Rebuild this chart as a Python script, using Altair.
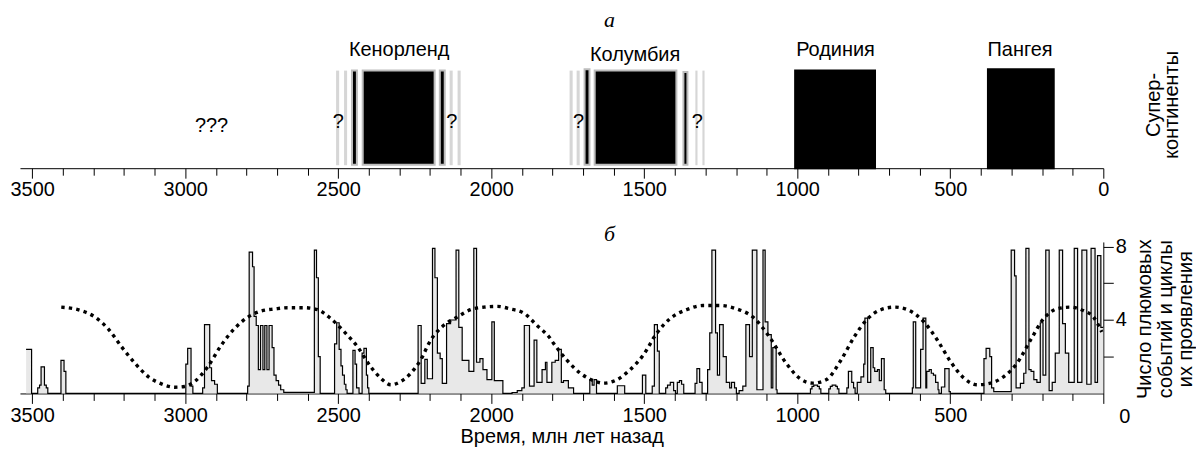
import altair as alt
import pandas as pd

# ---------------- top panel: supercontinents ----------------
block_name = ["Кенорленд", "Колумбия", "Родиния", "Пангея"]
block_old = [2420, 1662, 1007, 377]
block_young = [2185, 1395, 746, 162]
block_top = [7.2, 7.2, 7.2, 7.3]
block_bottom = [0.26, 0.26, 0.0, 0.0]
block_edge = ["#bdbdbd", "#bdbdbd", "black", "black"]

bar_old = [2455, 2168, 1695, 1372]
bar_young = [2439, 2152, 1679, 1359]
bar_top = [7.2, 7.2, 7.3, 7.1]
bar_bottom = [0.26, 0.26, 0.26, 0.26]

stripe_old = [2507, 2481, 2136, 2110, 1744, 1721, 1333, 1310]
stripe_young = [2497, 2471, 2126, 2100, 1734, 1711, 1326, 1303]
stripe_top = [7.2, 7.2, 7.2, 7.2, 7.2, 7.2, 7.2, 7.2]
stripe_bottom = [0.22, 0.22, 0.22, 0.22, 0.22, 0.22, 0.22, 0.22]

label_age = [2301, 1530, 875, 272]
label_y = [8.31, 7.94, 8.31, 8.31]

q_text = ["???", "?", "?", "?", "?"]
q_age = [2914, 2500, 2129, 1715, 1327]
q_y = [2.65, 2.94, 2.94, 2.94, 2.94]

# ---------------- bottom panel: plume events ----------------
plume_age = [3520, 3502, 3482, 3476, 3471, 3460, 3454, 3449, 3406, 3396, 3390,
             2998, 2992, 2981, 2975, 2943, 2937, 2920, 2914, 2904, 2895,
             2796, 2791, 2780, 2775, 2768, 2761, 2754, 2746, 2740, 2733, 2726,
             2716, 2710, 2703, 2695, 2688, 2678,
             2578, 2571, 2565, 2559,
             2512, 2505, 2497, 2491, 2486, 2480, 2475, 2471,
             2452, 2445, 2440, 2432, 2422, 2416, 2408, 2404, 2400,
             2239, 2229, 2217, 2209, 2192, 2184, 2176, 2167, 2160, 2146, 2133,
             2115, 2106, 2095, 2073, 2057, 2048, 2037, 2027, 2014, 1998, 1990, 1962,
             1932, 1915, 1900, 1892, 1875, 1860, 1851, 1834, 1823, 1818, 1802,
             1791, 1780, 1771, 1764, 1748, 1731,
             1678, 1670, 1664, 1656, 1588, 1564, 1506, 1495,
             1474, 1467, 1457, 1451, 1430, 1424, 1415, 1404, 1398,
             1392, 1385, 1378, 1371, 1334, 1328, 1319, 1311,
             1293, 1286, 1279, 1267, 1261, 1254, 1242, 1232, 1221, 1215, 1205, 1199,
             1190, 1178, 1168, 1156, 1147, 1132, 1112, 1105, 1096, 1085, 1080, 1069, 1066,
             957, 952, 946, 934, 928, 923, 897, 892, 886, 874, 869, 864,
             838, 833, 822, 816, 811,
             804, 792, 783, 779, 770, 760, 752, 747, 738, 732, 725, 716, 711,
             624, 621, 613, 597, 589, 580, 577, 569, 562, 555, 548, 540, 537,
             529, 518, 504, 500,
             390, 383, 371, 365, 358,
             301, 290, 285, 271, 260, 253, 243, 236, 227, 217, 206, 197, 188,
             177, 167, 157, 144, 133, 124, 113, 95, 84, 70, 54, 40, 27, 19, 8, 0]
plume_n = [2.4, 0, 0.3, 0.45, 1.45, 0.45, 0.3, 0, 1.8, 1.2, 0,
           1.6, 2.45, 0.4, 0, 0.3, 3.75, 1.4, 0.7, 0.5, 0,
           0.4, 7.7, 6.9, 4.2, 3.7, 1.3, 3.7, 1.3, 3.7, 1.3, 3.7,
           2.5, 1.0, 0.7, 0.45, 0.2, 0.06,
           7.8, 6.3, 2.0, 0,
           2.7, 3.85, 2.4, 1.5, 1.0, 0.5, 0.2, 0,
           2.35, 1.6, 0.3, 0, 2.2, 2.45, 1.0, 0.3, 0,
           3.7, 0.55, 1.85, 0.8, 7.9, 6.3, 2.2, 1.9, 0.55, 3.8, 4.0,
           7.8, 3.6, 1.8, 1.2, 7.9, 1.7, 1.9, 1.3, 0.75, 3.9, 0.7, 0,
           0.05, 0.15, 0.3, 3.7, 0.4, 2.9, 0.6, 1.3, 1.7, 0.6, 1.7,
           1.8, 2.4, 0.6, 0.7, 0.3, 0,
           0.75, 0.45, 0.75, 0, 0.42, 0, 1.0, 0,
           0.4, 3.75, 2.3, 0, 0.3, 0.45, 0.6, 0.15, 0,
           0.6, 0.7, 0.5, 0, 0.55, 1.35, 0.6, 0,
           1.3, 3.3, 7.8, 3.3, 1.0, 3.75, 2.0, 0.6, 0.3, 0.6, 0.3, 0,
           0.15, 0.4, 3.75, 2.0, 7.8, 0.2, 7.8, 3.9, 3.2, 0.3, 2.5, 0.2, 0,
           0.25, 0.38, 0.45, 0.38, 0.25, 0, 0.25, 0.38, 0.45, 0.38, 0.25, 0,
           0.3, 1.2, 0.6, 0.3, 0,
           0.6, 0.9, 1.6, 4.1, 0.6, 2.5, 1.4, 1.2, 1.3, 0.7, 1.9, 0.2, 0,
           0.3, 3.9, 0.3, 2.4, 4.1, 0.3, 1.2, 1.3, 1.1, 1.0, 0.6, 0.2, 0,
           0.35, 1.35, 0.1, 0,
           1.9, 2.45, 2.0, 0.3, 0.1,
           7.8, 6.4, 0.3, 0.55, 1.1, 7.9, 1.3, 1.2, 0.75, 0.6, 3.85, 1.0, 7.8,
           0.15, 0.6, 2.2, 7.8, 3.8, 2.2, 0.6, 7.9, 0.6, 7.8, 0.5, 7.9, 0.6, 7.5, 3.6, 3.6]

cycle_age = [3405, 3338, 3295, 3251, 3208, 3164, 3121, 3078, 3034, 3002, 2969,
             2926, 2882, 2839, 2795, 2752, 2708, 2665, 2611, 2567, 2524, 2480,
             2437, 2394, 2361, 2328, 2296, 2263, 2231, 2198, 2155, 2111, 2068,
             2024, 1981, 1937, 1894, 1851, 1807, 1796, 1753, 1709, 1666, 1633,
             1590, 1547, 1503, 1460, 1416, 1362, 1308, 1253, 1199, 1145, 1091,
             1036, 993, 950, 906, 857, 814, 770, 727, 683, 640, 586, 542, 499,
             455, 412, 369, 325, 282, 238, 195, 151, 108, 64, 32, 5]
cycle_n = [4.7, 4.5, 4.16, 3.5, 2.54, 1.64, 0.92, 0.52, 0.34, 0.38, 0.65,
           1.46, 2.63, 3.53, 4.16, 4.49, 4.6, 4.67, 4.67, 4.56, 4.07, 3.35,
           2.54, 1.46, 0.83, 0.47, 0.65, 1.1, 1.82, 2.9, 3.71, 4.16, 4.56,
           4.7, 4.74, 4.6, 4.38, 3.71, 2.99, 2.72, 1.82, 1.1, 0.7, 0.56,
           0.74, 1.28, 2.09, 3.26, 4.07, 4.56, 4.79, 4.79, 4.61, 4.16, 3.08,
           1.64, 0.83, 0.56, 0.74, 1.82, 3.08, 4.07, 4.56, 4.7, 4.56, 3.89, 2.9, 1.73,
           0.83, 0.47, 0.56, 0.92, 1.64, 2.9, 4.07, 4.61, 4.7, 4.5, 4.16, 3.35]

zero_label = ["0"]
zero_age = [-70]
zero_y = [-1.3]

# ---------------- tables ----------------
blocks = pd.DataFrame({"name": block_name, "old": block_old, "young": block_young,
                       "top": block_top, "bottom": block_bottom, "edge": block_edge})
bars = pd.DataFrame({"old": bar_old, "young": bar_young, "top": bar_top, "bottom": bar_bottom})
stripes = pd.DataFrame({"old": stripe_old, "young": stripe_young,
                        "top": stripe_top, "bottom": stripe_bottom})
labels = pd.DataFrame({"name": block_name, "old": label_age, "y": label_y})
qs = pd.DataFrame({"t": q_text, "old": q_age, "y": q_y})
plume = pd.DataFrame({"old": plume_age, "n": plume_n})
cycle = pd.DataFrame({"old": cycle_age, "n": cycle_n})
zero = pd.DataFrame({"t": zero_label, "old": zero_age, "n": zero_y})

FONT = "Liberation Sans"
W = 1087
xscale = alt.Scale(domain=[0, 3540], reverse=True, nice=False, zero=False)
tick_cond = {"condition": {"test": "datum.value % 500 === 0", "value": 10}, "value": 7}


def xaxis(show_zero, title=None, pad=0):
    expr = ("datum.value % 500 === 0 ? datum.label : ''" if show_zero
            else "(datum.value % 500 === 0 && datum.value > 0) ? datum.label : ''")
    kw = dict(values=list(range(0, 3501, 100)), format="d", labelExpr=expr,
              tickSize=tick_cond, labelPadding=pad, labelFlush=False, labelOverlap=False,
              grid=False)
    if title:
        kw["title"] = title
        kw["titlePadding"] = 1
    else:
        kw["title"] = None
    return alt.Axis(**kw)


# top panel
ytop = alt.Scale(domain=[0, 10], nice=False, zero=False)
ytop_axis = alt.Axis(orient="right", title=["Супер-", "континенты"], domain=False, ticks=False,
                     labels=False, grid=False, titleAngle=270, titleAlign="center",
                     titleBaseline="middle", titleX=50, titleY=72, titleLineHeight=18,
                     titleFontSize=20)
top_x = alt.X("old:Q", scale=xscale, axis=xaxis(True, pad=1))

stripe_layer = alt.Chart(stripes).mark_rect(color="#d6d6d6").encode(
    x=top_x, x2="young:Q",
    y=alt.Y("bottom:Q", scale=ytop, axis=ytop_axis), y2="top:Q")
block_layer = alt.Chart(blocks).mark_rect(fill="black", strokeWidth=2).encode(
    x=top_x, x2="young:Q",
    y=alt.Y("bottom:Q", scale=ytop, axis=ytop_axis), y2="top:Q",
    stroke=alt.Color("edge:N", scale=None))
bar_layer = alt.Chart(bars).mark_rect(fill="black", stroke="#bdbdbd", strokeWidth=2).encode(
    x=top_x, x2="young:Q",
    y=alt.Y("bottom:Q", scale=ytop, axis=ytop_axis), y2="top:Q")
label_layer = alt.Chart(labels).mark_text(font=FONT, fontSize=20, baseline="alphabetic",
                                          color="black").encode(
    x=top_x, y=alt.Y("y:Q", scale=ytop, axis=ytop_axis), text="name:N")
q_layer = alt.Chart(qs).mark_text(font=FONT, fontSize=20, baseline="alphabetic",
                                  color="black").encode(
    x=top_x, y=alt.Y("y:Q", scale=ytop, axis=ytop_axis), text="t:N")

top = alt.layer(stripe_layer, bar_layer, block_layer, label_layer, q_layer).properties(
    width=W, height=136,
    title=alt.TitleParams("а", font="Liberation Serif", fontStyle="italic", fontSize=22,
                          fontWeight="normal", dx=48, offset=1, color="black"))

# bottom panel
ybot = alt.Scale(domain=[0, 8.25], nice=False, zero=False)
ybot_axis = alt.Axis(orient="right", values=[2, 4, 6, 8],
                     labelExpr="(datum.value === 4 || datum.value === 8) ? datum.label : ''",
                     tickSize=10, labelPadding=2, grid=False, domain=True,
                     title=["Число плюмовых", "событий и циклы", "их проявления"],
                     titleAngle=270, titleAlign="center", titleBaseline="middle",
                     titleX=41, titleY=77, titleLineHeight=21, titleFontSize=20)
bot_x = alt.X("old:Q", scale=xscale, axis=xaxis(False, "Время, млн лет назад", pad=2))

area_layer = alt.Chart(plume).mark_area(
    interpolate="step-after", color="#dedede",
    line={"color": "black", "strokeWidth": 1.2}).encode(
    x=bot_x, y=alt.Y("n:Q", scale=ybot, axis=ybot_axis))
cycle_layer = alt.Chart(cycle).mark_line(
    interpolate="monotone", color="black", strokeWidth=3.4, strokeDash=[3.4, 4.2]).encode(
    x=bot_x, y=alt.Y("n:Q", scale=ybot, axis=ybot_axis))
zero_layer = alt.Chart(zero).mark_text(font=FONT, fontSize=20, baseline="middle",
                                       color="black").encode(
    x=bot_x, y=alt.Y("n:Q", scale=ybot, axis=ybot_axis), text="t:N")

bottom = alt.layer(area_layer, cycle_layer, zero_layer).properties(
    width=W, height=152,
    title=alt.TitleParams("б", font="Liberation Serif", fontStyle="italic", fontSize=22,
                          fontWeight="normal", dx=48, offset=-9, color="black"))

chart = alt.vconcat(top, bottom, spacing=23).properties(
    padding={"left": 2, "top": 0, "right": 0, "bottom": 0}
).configure_view(stroke=None).configure_axis(
    labelFont=FONT, labelFontSize=20, labelColor="black", titleFont=FONT, titleFontSize=20,
    titleColor="black", titleFontWeight="normal", domainColor="black", tickColor="black",
    domainWidth=1, tickWidth=1
).configure_title(font="Liberation Serif")

chart.save("out.html", embed_options={"renderer": "svg", "actions": False})
